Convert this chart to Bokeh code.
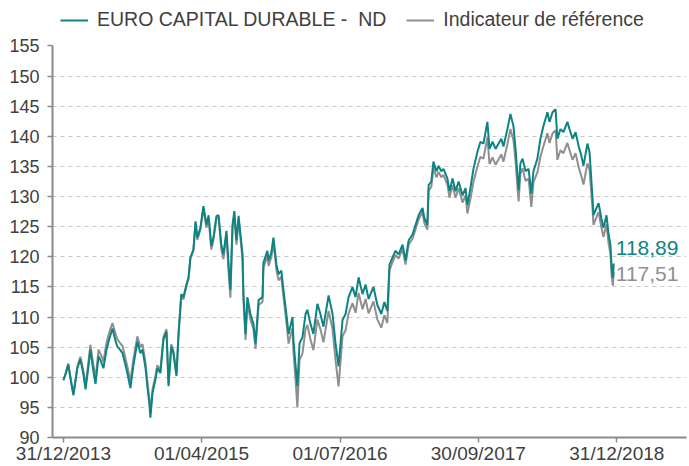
import pandas as pd
from bokeh.plotting import figure
from bokeh.models import ColumnDataSource, FixedTicker, Legend, LegendItem, Range1d
from bokeh.embed import file_html
from bokeh.resources import INLINE
from bokeh.core.properties import value

series_names = ["EURO CAPITAL DURABLE -  ND", "Indicateur de référence"]

dates = [
    "2013-12-31", "2014-01-07", "2014-01-16", "2014-01-26", "2014-02-02", "2014-02-15", "2014-02-25", "2014-03-07", "2014-03-14", "2014-03-23",
    "2014-03-30", "2014-04-09", "2014-04-16", "2014-04-26", "2014-05-05", "2014-05-12", "2014-05-22", "2014-06-01", "2014-06-11", "2014-06-21",
    "2014-06-27", "2014-07-07", "2014-07-14", "2014-07-24", "2014-07-30", "2014-08-09", "2014-08-19", "2014-09-01", "2014-09-11", "2014-09-18",
    "2014-09-28", "2014-10-04", "2014-10-11", "2014-10-14", "2014-10-21", "2014-10-31", "2014-11-06", "2014-11-16", "2014-11-26", "2014-12-06",
    "2014-12-13", "2014-12-22", "2014-12-29", "2015-01-08", "2015-01-15", "2015-01-24", "2015-01-31", "2015-02-10", "2015-02-17", "2015-02-23",
    "2015-03-05", "2015-03-12", "2015-03-18", "2015-03-28", "2015-04-07", "2015-04-17", "2015-04-24", "2015-05-03", "2015-05-10", "2015-05-20",
    "2015-05-27", "2015-06-05", "2015-06-12", "2015-06-22", "2015-06-29", "2015-07-05", "2015-07-12", "2015-07-18", "2015-07-25", "2015-08-01",
    "2015-08-14", "2015-08-17", "2015-08-24", "2015-08-30", "2015-09-09", "2015-09-19", "2015-09-26", "2015-10-06", "2015-10-19", "2015-10-22",
    "2015-11-04", "2015-11-08", "2015-11-17", "2015-11-24", "2015-12-04", "2015-12-11", "2015-12-20", "2015-12-27", "2016-01-06", "2016-01-13",
    "2016-01-26", "2016-01-29", "2016-02-05", "2016-02-11", "2016-02-18", "2016-02-28", "2016-03-09", "2016-03-15", "2016-03-25", "2016-04-04",
    "2016-04-17", "2016-04-27", "2016-05-07", "2016-05-24", "2016-06-06", "2016-06-16", "2016-06-26", "2016-07-09", "2016-07-19", "2016-07-29",
    "2016-08-11", "2016-08-21", "2016-08-31", "2016-09-13", "2016-09-23", "2016-10-03", "2016-10-19", "2016-11-01", "2016-11-14", "2016-11-24",
    "2016-12-04", "2016-12-11", "2016-12-21", "2016-12-31", "2017-01-10", "2017-01-23", "2017-02-02", "2017-02-12", "2017-02-25", "2017-03-07",
    "2017-03-17", "2017-03-30", "2017-04-05", "2017-04-15", "2017-04-19", "2017-04-28", "2017-05-05", "2017-05-15", "2017-05-22", "2017-05-31",
    "2017-06-07", "2017-06-20", "2017-06-27", "2017-07-07", "2017-07-17", "2017-07-27", "2017-08-09", "2017-08-19", "2017-08-25", "2017-09-04",
    "2017-09-14", "2017-09-27", "2017-10-07", "2017-10-17", "2017-10-30", "2017-11-06", "2017-11-16", "2017-11-26", "2017-12-06", "2017-12-15",
    "2017-12-22", "2018-01-04", "2018-01-14", "2018-01-24", "2018-01-31", "2018-02-10", "2018-02-16", "2018-02-23", "2018-03-05", "2018-03-15",
    "2018-03-24", "2018-03-31", "2018-04-13", "2018-04-23", "2018-05-03", "2018-05-16", "2018-05-23", "2018-06-02", "2018-06-12", "2018-06-18",
    "2018-06-28", "2018-07-08", "2018-07-21", "2018-07-28", "2018-08-07", "2018-08-17", "2018-08-27", "2018-09-05", "2018-09-12", "2018-09-25",
    "2018-10-02", "2018-10-12", "2018-10-15", "2018-10-25", "2018-11-01", "2018-11-10", "2018-11-17", "2018-11-27", "2018-12-04", "2018-12-10",
    "2018-12-14", "2018-12-18", "2018-12-21",
]

fund = [
    99.5, 100.5, 102.1, 99.0, 97.0, 101.5, 103.0, 100.5, 98.0, 101.5,
    104.6, 101.0, 98.9, 103.5, 102.5, 101.5, 104.5, 106.5, 108.1, 106.0,
    105.1, 104.5, 104.0, 102.0, 100.7, 98.2, 102.0, 105.9, 104.0, 104.6,
    101.5, 98.5, 95.5, 93.3, 97.4, 99.7, 101.5, 100.7, 106.2, 107.6,
    98.5, 105.1, 104.0, 100.2, 107.2, 113.8, 113.3, 115.4, 116.6, 119.9,
    121.2, 125.9, 123.2, 124.8, 128.4, 125.3, 126.9, 121.8, 123.2, 126.8,
    126.9, 122.0, 120.4, 124.3, 118.7, 114.5, 125.3, 127.6, 122.7, 126.8,
    120.4, 113.8, 107.2, 113.3, 110.5, 108.9, 105.6, 112.8, 113.3, 119.0,
    121.0, 119.4, 120.7, 123.2, 118.7, 117.1, 117.7, 114.5, 110.4, 107.2,
    110.0, 106.2, 102.0, 98.5, 105.6, 106.7, 110.5, 111.2, 108.9, 107.2,
    112.2, 110.5, 108.4, 113.6, 110.5, 105.6, 101.8, 109.5, 110.5, 113.3,
    115.0, 113.3, 116.6, 113.8, 115.4, 113.0, 115.0, 112.0, 110.5, 112.5,
    111.0, 118.7, 119.9, 121.0, 120.4, 122.0, 119.4, 122.7, 123.7, 125.3,
    126.9, 128.1, 126.4, 125.3, 131.9, 132.5, 135.8, 134.2, 135.1, 134.2,
    134.6, 133.0, 130.9, 133.0, 130.9, 132.5, 130.2, 131.4, 128.6, 131.4,
    134.6, 137.4, 139.1, 138.8, 142.4, 137.9, 139.1, 137.9, 138.8, 139.6,
    138.3, 141.2, 143.7, 141.7, 137.9, 131.0, 135.5, 136.3, 134.2, 134.6,
    130.5, 134.2, 136.3, 139.6, 141.7, 144.0, 142.4, 144.0, 144.5, 139.6,
    141.2, 140.7, 142.4, 141.2, 139.6, 140.7, 138.4, 136.8, 135.1, 138.8,
    137.4, 129.7, 126.9, 128.1, 128.9, 126.4, 124.8, 126.9, 123.7, 122.0,
    118.2, 116.5, 118.89,
]

bench = [
    99.5, 100.6, 102.3, 99.2, 97.3, 101.8, 103.4, 101.0, 98.6, 102.3,
    105.4, 102.0, 99.9, 104.6, 103.6, 102.6, 105.7, 107.6, 109.0, 107.2,
    106.3, 105.6, 105.2, 103.1, 101.8, 99.3, 103.0, 106.8, 105.0, 105.5,
    102.4, 99.3, 96.2, 94.0, 98.0, 100.3, 102.0, 101.2, 106.7, 108.0,
    99.0, 105.5, 104.4, 100.5, 107.4, 113.6, 112.9, 115.1, 116.4, 119.7,
    121.0, 125.6, 122.8, 124.5, 128.0, 124.8, 126.5, 121.2, 122.8, 126.4,
    126.5, 121.3, 119.6, 123.8, 117.5, 113.2, 124.6, 127.0, 122.0, 126.2,
    119.6, 112.8, 106.2, 112.5, 109.6, 108.0, 104.7, 112.0, 112.5, 118.2,
    120.2, 118.5, 119.9, 122.4, 117.8, 116.1, 116.7, 113.4, 109.0, 105.6,
    108.2, 104.2, 99.6, 95.0, 102.8, 104.0, 108.0, 108.7, 106.3, 104.5,
    109.6, 108.0, 105.8, 111.0, 108.0, 102.8, 98.5, 106.8, 107.8, 110.6,
    112.3, 110.7, 114.0, 111.3, 113.0, 110.6, 112.6, 109.6, 108.2, 110.3,
    109.0, 117.8, 119.1, 120.3, 119.7, 121.3, 118.7, 122.0, 123.0, 124.6,
    126.2, 127.4, 125.6, 124.5, 131.0, 131.6, 134.8, 133.2, 134.1, 133.2,
    133.6, 132.0, 129.8, 131.9, 129.8, 131.4, 129.0, 130.2, 127.2, 129.6,
    132.4, 135.0, 136.6, 136.3, 139.8, 135.4, 136.5, 135.3, 136.2, 137.0,
    135.8, 138.7, 141.2, 139.3, 135.8, 129.2, 133.8, 134.7, 132.6, 133.0,
    128.3, 132.4, 134.0, 136.6, 138.4, 140.5, 138.9, 140.5, 141.0, 136.1,
    137.7, 137.2, 138.9, 137.7, 136.1, 137.2, 134.9, 133.4, 132.0, 135.5,
    134.5, 128.0, 125.3, 126.6, 127.4, 124.9, 123.3, 125.4, 122.2, 120.5,
    116.8, 115.2, 117.51,
]

x_tick_dates = ["2013-12-31", "2015-04-01", "2016-07-01", "2017-09-30", "2018-12-31"]
x_tick_labels = ["31/12/2013", "01/04/2015", "01/07/2016", "30/09/2017", "31/12/2018"]
y_ticks = [90, 95, 100, 105, 110, 115, 120, 125, 130, 135, 140, 145, 150, 155]
grid_ticks = [95, 100, 105, 110, 115, 120, 125, 130, 135, 140, 145, 150]
end_labels = ["118,89", "117,51"]

TEAL = "#0E8482"
GREY = "#8F8F8F"
TXT = "#404040"
FONT = "Liberation Sans"

# layout: the frame runs from the top of the figure down to y=90 (396 px for 65 units);
# the strip above 155 holds the legend
Y_MIN, Y_MAX = 90, 155
PLOT_PX, TOP_PX = 396, 46
y_top = Y_MAX + TOP_PX * (Y_MAX - Y_MIN) / PLOT_PX

src = ColumnDataSource(dict(date=pd.to_datetime(dates), fund=fund, bench=bench))

p = figure(width=689, height=466, x_axis_type="datetime", output_backend="svg",
           toolbar_location=None,
           x_range=Range1d(pd.Timestamp("2013-11-25"), pd.Timestamp("2019-08-18")),
           y_range=Range1d(Y_MIN, y_top),
           min_border_left=52, min_border_right=3, min_border_top=0, min_border_bottom=24)
p.outline_line_color = None
p.background_fill_color = "white"

r_bench = p.line("date", "bench", source=src, color=GREY, line_width=2)
r_fund = p.line("date", "fund", source=src, color=TEAL, line_width=2)

# axes
tick_ms = [pd.Timestamp(d).value // 10**6 for d in x_tick_dates]
p.xaxis.ticker = FixedTicker(ticks=tick_ms)
p.xaxis.major_label_overrides = {t: l for t, l in zip(tick_ms, x_tick_labels)}
p.yaxis.ticker = FixedTicker(ticks=y_ticks)
p.yaxis.bounds = (Y_MIN, Y_MAX)
for ax in (p.xaxis[0], p.yaxis[0]):
    ax.axis_line_color = "#8A8A8A"
    ax.axis_line_width = 2
    ax.major_tick_line_color = "#8A8A8A"
    ax.major_tick_line_width = 1.5
    ax.major_tick_out = 5
    ax.major_tick_in = 0
    ax.minor_tick_line_color = None
    ax.major_label_text_font = FONT
    ax.major_label_text_color = TXT
p.yaxis.major_label_text_font_size = "18px"
p.xaxis.major_label_text_font_size = "19px"
p.yaxis.major_label_standoff = 8
p.xaxis.major_label_standoff = 0

p.xgrid.grid_line_color = None
p.ygrid.ticker = FixedTicker(ticks=grid_ticks)
p.ygrid.grid_line_color = "#C8C8C8"
p.ygrid.grid_line_dash = "4 4"
p.ygrid.grid_line_width = 1

# end labels
last_date = pd.to_datetime(dates[-1])
p.text(x=[last_date], y=[fund[-1]], text=[end_labels[0]], text_color=TEAL,
       text_font=value(FONT), text_font_size="21px", text_baseline="middle",
       x_offset=2, y_offset=-15)
p.text(x=[last_date], y=[bench[-1]], text=[end_labels[1]], text_color=GREY,
       text_font=value(FONT), text_font_size="21px", text_baseline="middle",
       x_offset=2, y_offset=2)

legend = Legend(items=[LegendItem(label=series_names[0], renderers=[r_fund]),
                       LegendItem(label=series_names[1], renderers=[r_bench])],
                orientation="horizontal", location="top_left",
                glyph_width=28, label_standoff=9, spacing=20,
                padding=0, margin=8, border_line_color=None,
                background_fill_alpha=0,
                label_text_font=FONT, label_text_font_size="19.5px",
                label_text_color=TXT)
p.add_layout(legend, "center")

open("out.html", "w").write(file_html(p, INLINE))
